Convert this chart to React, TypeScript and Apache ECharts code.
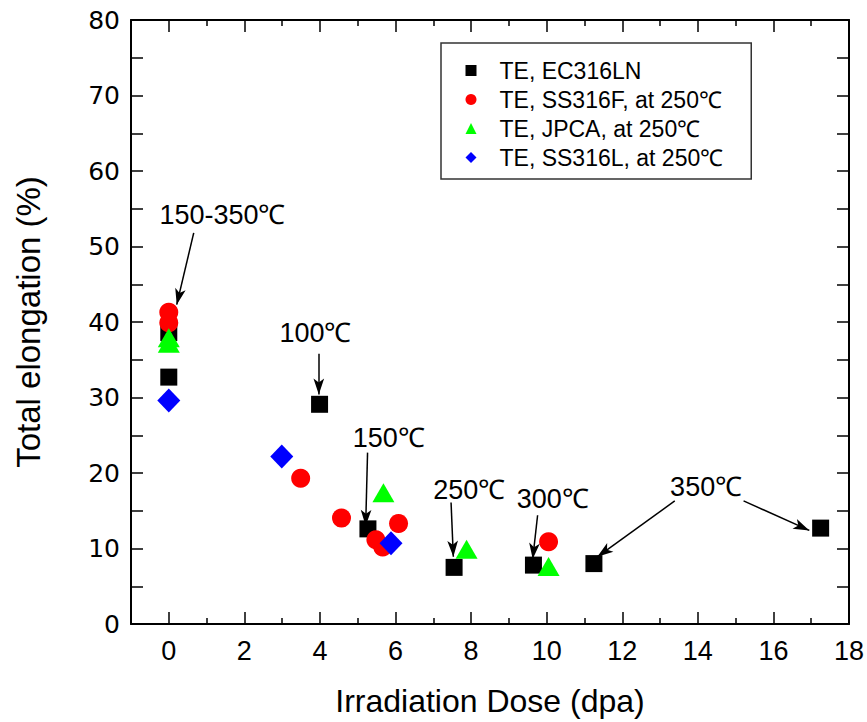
import React, { useEffect, useRef } from "react";
import * as echarts from "echarts";

const FONT = "'Liberation Sans', Arial, Helvetica, sans-serif";
const YFONT = "'DejaVu Sans', 'Liberation Sans', sans-serif";

const xMajorTicks = [0, 2, 4, 6, 8, 10, 12, 14, 16, 18];
const xMinorTicks = [-1, 1, 3, 5, 7, 9, 11, 13, 15, 17];
const yTicks = [0, 10, 20, 30, 40, 50, 60, 70, 80];

const seriesNames = [
  "TE, EC316LN",
  "TE, SS316F, at 250℃",
  "TE, JPCA, at 250℃",
  "TE, SS316L, at 250℃",
];

const ec316ln: [number, number][] = [
  [0, 38.6], [0, 32.7], [3.99, 29.1], [5.27, 12.6], [7.55, 7.5], [9.65, 7.8], [11.25, 8.0], [17.25, 12.7],
];
const ss316f: [number, number][] = [
  [0, 41.3], [0, 39.9], [3.49, 19.3], [4.57, 14.05], [5.48, 11.15], [5.66, 10.2], [6.08, 13.3], [10.05, 10.9],
];
const jpca: [number, number][] = [
  [0, 37.9], [0, 37.2], [5.68, 17.4], [7.88, 9.9], [10.05, 7.6],
];
const ss316l: [number, number][] = [
  [0, 29.6], [2.99, 22.2], [5.88, 10.7],
];

const annotationTexts = ["150-350℃", "100℃", "150℃", "250℃", "300℃", "350℃"];
const annotationPos: [number, number][] = [
  [1.42, 54.2], [3.88, 38.6], [5.82, 24.7], [7.95, 17.7], [10.16, 16.5], [14.22, 18.1],
];
const arrows: [[number, number], [number, number]][] = [
  [[0.66, 51.8], [0.21, 42.3]],
  [[3.97, 35.8], [3.97, 30.4]],
  [[5.26, 22.7], [5.21, 13.0]],
  [[7.47, 16.1], [7.53, 8.9]],
  [[9.76, 14.4], [9.63, 8.6]],
  [[13.39, 16.3], [11.34, 8.9]],
  [[15.21, 16.3], [16.95, 12.4]],
];

export default function App() {
  const ref = useRef<HTMLDivElement>(null);
  useEffect(() => {
    if (!ref.current) return;
    const chart = echarts.init(ref.current, null, { renderer: "svg" });
    const lineOn = { show: true, onZero: false, lineStyle: { color: "#000", width: 2 } };
    const lineOff = { show: false, onZero: false };
    const tick = (values: number[], length: number) => ({
      show: true,
      inside: true,
      length,
      customValues: values,
      lineStyle: { color: "#000", width: 1.5 },
    });
    const baseX = {
      type: "value" as const,
      min: -1,
      max: 18,
      splitLine: { show: false },
    };
    const baseY = {
      type: "value" as const,
      min: 0,
      max: 80,
      interval: 5,
      splitLine: { show: false },
    };
    const yLabelFormatter = (v: number) => (yTicks.includes(v) ? String(v) : "");

    const option: any = {
      animation: false,
      backgroundColor: "#fff",
      grid: { left: 131, right: 14, top: 20, bottom: 97, containLabel: false },
      legend: {
        data: seriesNames,
        orient: "vertical",
        left: 441,
        top: 43,
        padding: [16, 28, 10, 24.5],
        itemGap: 6,
        itemWidth: 11,
        itemHeight: 11,
        borderColor: "#333",
        borderWidth: 1.5,
        textStyle: {
          fontFamily: FONT, fontSize: 23, color: "#000", lineHeight: 23,
          padding: [0, 0, 0, 18],
        },
      },
      xAxis: [
        {
          ...baseX,
          position: "bottom",
          name: "Irradiation Dose (dpa)",
          nameLocation: "middle",
          nameGap: 61,
          nameTextStyle: { fontFamily: FONT, fontSize: 32, color: "#000" },
          axisLine: lineOn,
          axisTick: tick(xMajorTicks, 12),
          axisLabel: { customValues: xMajorTicks, fontFamily: FONT, fontSize: 27, color: "#000", margin: 13 },
        },
        {
          ...baseX,
          position: "bottom",
          axisLine: lineOff,
          axisTick: tick(xMinorTicks, 6),
          axisLabel: { show: false },
        },
        {
          ...baseX,
          position: "top",
          axisLine: lineOn,
          axisTick: tick(xMajorTicks, 12),
          axisLabel: { show: false },
        },
        {
          ...baseX,
          position: "top",
          axisLine: lineOff,
          axisTick: tick(xMinorTicks, 6),
          axisLabel: { show: false },
        },
      ],
      yAxis: [
        {
          ...baseY,
          position: "left",
          name: "Total elongation (%)",
          nameLocation: "middle",
          nameGap: 86,
          nameTextStyle: { fontFamily: FONT, fontSize: 33, color: "#000" },
          axisLine: lineOn,
          axisTick: { show: true, inside: true, length: 12, lineStyle: { color: "#000", width: 1.5 } },
          axisLabel: { formatter: yLabelFormatter, fontFamily: YFONT, fontSize: 25, color: "#000", margin: 11 },
        },
        {
          ...baseY,
          position: "right",
          axisLine: lineOn,
          axisTick: { show: true, inside: true, length: 12, lineStyle: { color: "#000", width: 1.5 } },
          axisLabel: { show: false },
        },
      ],
      series: [
        {
          name: seriesNames[0], type: "scatter", symbol: "rect", symbolSize: 17,
          itemStyle: { color: "#000000", opacity: 1 }, data: ec316ln, z: 2,
        },
        {
          name: seriesNames[1], type: "scatter", symbol: "circle", symbolSize: 19,
          itemStyle: { color: "#ff0000", opacity: 1 }, data: ss316f, z: 3,
        },
        {
          name: seriesNames[2], type: "scatter", symbol: "triangle", symbolSize: [22, 19],
          itemStyle: { color: "#00ff00", opacity: 1 }, data: jpca, z: 4,
        },
        {
          name: seriesNames[3], type: "scatter", symbol: "diamond", symbolSize: [23, 24],
          itemStyle: { color: "#0000ff", opacity: 1 }, data: ss316l, z: 5,
        },
        {
          name: "annotations", type: "scatter", data: [], z: 6,
          markPoint: {
            symbol: "circle", symbolSize: 0,
            label: {
              show: true, position: "inside", fontFamily: FONT, fontSize: 27, color: "#000",
              formatter: (p: any) => p.name,
            },
            data: annotationTexts.map((t, i) => ({ name: t, coord: annotationPos[i] })),
          },
          markLine: {
            silent: true,
            symbol: ["none", "arrow"],
            symbolSize: [8, 16],
            label: { show: false },
            lineStyle: { color: "#000", width: 1.5, type: "solid" },
            data: arrows.map(([a, b]) => [{ coord: a }, { coord: b }]),
          },
        },
      ],
    };
    chart.setOption(option);
    return () => chart.dispose();
  }, []);
  return <div ref={ref} style={{ width: 867, height: 722, position: "absolute", left: 0, top: 0 }} />;
}
